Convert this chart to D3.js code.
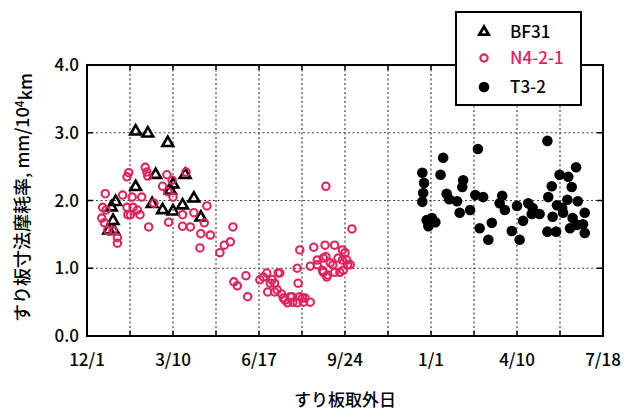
<!DOCTYPE html>
<html>
<head>
<meta charset="utf-8">
<script src="https://cdn.jsdelivr.net/npm/d3@7"></script>
<style>
  body { margin: 0; background: #fff; }
  svg text { font-family: "Noto Sans CJK JP", "DejaVu Sans", sans-serif; font-weight: 500; }
</style>
</head>
<body>
<svg id="chart"></svg>
<script>
// x values are days elapsed since 2004-12-01 (removal date)
var startDate = new Date(2004, 11, 1);
var tickDates = ["2004-12-01", "2005-03-10", "2005-06-17", "2005-09-24", "2006-01-01", "2006-04-10", "2006-07-18"];
var yTicks = [0, 1, 2, 3, 4];

var bfDay = [56, 70, 93, 56, 79, 113, 99, 33, 28, 30, 25, 31, 75, 87, 99, 110, 123, 131, 96];
var bfVal = [3.02, 2.99, 2.85, 2.20, 2.38, 2.38, 2.24, 1.98, 1.90, 1.70, 1.56, 1.55, 1.95, 1.86, 1.84, 1.93, 2.03, 1.75, 2.15];

var nDay = [21, 18, 22, 17, 20, 24, 30, 35, 35, 41, 47,
	46, 48, 52, 53, 46, 50, 58, 61, 63, 67, 69, 70, 71, 77, 87, 92, 93, 94, 98, 99,
	110, 110, 114, 119, 123, 131, 130, 135, 138, 142,
	153, 158, 165, 168, 169, 173, 183, 185,
	199, 203, 207, 211, 213, 216, 219, 220, 208, 216, 224, 226, 228, 234, 231, 237, 236, 245, 242, 248, 251, 249, 257, 243, 242, 222,
	245, 261, 257, 265, 265, 271, 272, 274, 275, 272, 276, 280, 277, 283, 285, 285, 289, 294, 295, 294, 297, 299, 300, 303, 291, 305, 275];
var nVal = [2.10, 1.90, 1.86, 1.74, 1.67, 1.56, 1.56, 1.45, 1.37, 2.08, 1.79,
	2.35, 2.41, 2.05, 1.90, 1.90, 1.79, 1.86, 1.79, 2.05, 2.49, 2.42, 2.36, 1.61, 1.96, 2.21, 2.38, 2.13, 1.68, 2.30, 2.05,
	1.79, 1.62, 2.42, 1.61, 1.82, 1.51, 1.30, 1.67, 1.92, 1.49,
	1.23, 1.34, 1.39, 1.61, 0.80, 0.74, 0.89, 0.58,
	0.83, 0.87, 0.93, 0.78, 0.83, 0.78, 0.68, 0.93, 0.65, 0.65, 0.62, 0.56, 0.53, 0.58, 0.49, 0.50, 0.58, 0.58, 0.49, 0.56, 0.56, 0.50, 0.50, 0.78, 1.00, 0.93,
	1.27, 1.31, 1.03, 1.12, 1.05, 0.97, 1.15, 1.34, 1.17, 0.94, 0.87, 1.08, 0.90, 1.05, 1.34, 0.94, 1.15, 1.27, 0.97, 1.12, 1.23, 1.12, 1.05, 1.05, 0.94, 1.58, 2.21];

var tDay = [386, 388, 387, 386, 391, 397, 401, 393,
	410, 407, 414, 417, 426, 429, 433, 432, 441, 447, 450, 456, 452, 466, 462,
	478, 475, 481, 495, 489, 498, 502, 508, 513, 512, 521, 530, 531, 535, 536, 530, 540,
	544, 554, 563, 558, 553, 565, 548, 559, 573, 571, 573, 556, 564, 547, 541];
var tVal = [2.41, 2.26, 2.11, 1.98, 1.71, 1.74, 1.68, 1.62,
	2.63, 2.38, 2.10, 2.02, 1.99, 1.82, 2.30, 2.20, 1.86, 2.08, 2.76, 2.05, 1.59, 1.67, 1.42,
	2.07, 1.96, 1.86, 1.92, 1.55, 1.42, 1.70, 1.96, 1.89, 1.80, 1.80, 2.88, 2.05, 2.21, 1.76, 1.54, 1.54,
	2.38, 2.35, 2.49, 2.20, 2.01, 1.99, 1.82, 1.74, 1.82, 1.65, 1.52, 1.59, 1.64, 1.89, 1.93];

var seriesNames = ["BF31", "N4-2-1", "T3-2"];
var pink = "#e0235d";

var W = 629, H = 414;
var margin = { top: 65, right: 26, bottom: 78, left: 87 };
var width = W - margin.left - margin.right,
	height = H - margin.top - margin.bottom;

var svg = d3.select("#chart").attr("width", W).attr("height", H);
var g = svg.append("g").attr("transform", "translate(" + margin.left + "," + margin.top + ")");

var parse = d3.timeParse("%Y-%m-%d");
var ticks = tickDates.map(parse);
var x = d3.scaleTime().domain([ticks[0], ticks[ticks.length - 1]]).range([0, width]);
var y = d3.scaleLinear().domain([0, 4]).range([height, 0]);
var toDate = function (d) { return d3.timeDay.offset(startDate, d); };

// grid positions: every label tick plus the midpoints between them
var gridDates = [];
ticks.forEach(function (t, i) {
	gridDates.push(t);
	if (i < ticks.length - 1) gridDates.push(new Date((+t + +ticks[i + 1]) / 2));
});

var grid = g.append("g").attr("stroke", "#444").attr("stroke-width", 1.2).attr("stroke-dasharray", "2,2.5");
grid.selectAll(".vg").data(gridDates.slice(1, -1)).enter().append("line")
	.attr("x1", function (d) { return x(d); }).attr("x2", function (d) { return x(d); })
	.attr("y1", 0).attr("y2", height);
grid.selectAll(".hg").data(yTicks.slice(1, -1)).enter().append("line")
	.attr("x1", 0).attr("x2", width)
	.attr("y1", function (d) { return y(d); }).attr("y2", function (d) { return y(d); });

// inward tick marks on all four sides
var tk = g.append("g").attr("stroke", "#000").attr("stroke-width", 1.5);
gridDates.slice(1, -1).forEach(function (d) {
	tk.append("line").attr("x1", x(d)).attr("x2", x(d)).attr("y1", height).attr("y2", height - 5);
	tk.append("line").attr("x1", x(d)).attr("x2", x(d)).attr("y1", 0).attr("y2", 5);
});
yTicks.slice(1, -1).forEach(function (d) {
	tk.append("line").attr("x1", 0).attr("x2", 6).attr("y1", y(d)).attr("y2", y(d));
	tk.append("line").attr("x1", width).attr("x2", width - 6).attr("y1", y(d)).attr("y2", y(d));
});

// tick labels
var fmt = d3.timeFormat("%-m/%-d");
g.selectAll(".xl").data(ticks).enter().append("text")
	.attr("x", function (d) { return x(d); })
	.attr("y", height + 30)
	.attr("text-anchor", "middle")
	.style("font-size", "17px")
	.text(function (d) { return fmt(d); });
g.selectAll(".yl").data(yTicks).enter().append("text")
	.attr("x", -8)
	.attr("y", function (d) { return y(d); })
	.attr("dy", "0.36em")
	.attr("text-anchor", "end")
	.style("font-size", "17px")
	.text(function (d) { return d3.format(".1f")(d); });

// series
var tri = d3.symbol().type(d3.symbolTriangle).size(50);

g.append("g").selectAll("circle").data(tDay.map(function (d, i) { return [d, tVal[i]]; }))
	.enter().append("circle")
	.attr("cx", function (d) { return x(toDate(d[0])); })
	.attr("cy", function (d) { return y(d[1]); })
	.attr("r", 5.3)
	.attr("fill", "#000");

g.append("g").selectAll("path").data(bfDay.map(function (d, i) { return [d, bfVal[i]]; }))
	.enter().append("path")
	.attr("d", tri)
	.attr("transform", function (d) { return "translate(" + x(toDate(d[0])) + "," + y(d[1]) + ")"; })
	.attr("fill", "none")
	.attr("stroke", "#000")
	.attr("stroke-width", 2.6);

g.append("g").selectAll("circle").data(nDay.map(function (d, i) { return [d, nVal[i]]; }))
	.enter().append("circle")
	.attr("cx", function (d) { return x(toDate(d[0])); })
	.attr("cy", function (d) { return y(d[1]); })
	.attr("r", 3.7)
	.attr("fill", "none")
	.attr("stroke", pink)
	.attr("stroke-width", 2.1);

// frame
g.append("rect").attr("width", width).attr("height", height)
	.attr("fill", "none").attr("stroke", "#000").attr("stroke-width", 2);

// axis titles
svg.append("text")
	.attr("x", 345)
	.attr("y", 406)
	.attr("text-anchor", "middle")
	.style("font-size", "17px")
	.text("すり板取外日");

var yt = svg.append("text")
	.attr("transform", "translate(29," + (margin.top + height / 2 - 3) + ") rotate(-90)")
	.attr("text-anchor", "middle")
	.style("font-size", "18px");
yt.append("tspan").text("すり板寸法摩耗率, mm/10");
yt.append("tspan").attr("dy", "-0.45em").style("font-size", "12px").text("4");
yt.append("tspan").attr("dy", "0.45em").text("km");

// legend
var lg = svg.append("g").attr("transform", "translate(456,12)");
lg.append("rect").attr("width", 125).attr("height", 93)
	.attr("fill", "#fff").attr("stroke", "#000").attr("stroke-width", 2);
var rows = [20, 46, 75];
lg.append("path").attr("d", d3.symbol().type(d3.symbolTriangle).size(38))
	.attr("transform", "translate(28," + rows[0] + ")")
	.attr("fill", "none").attr("stroke", "#000").attr("stroke-width", 2.8);
lg.append("circle").attr("cx", 28).attr("cy", rows[1]).attr("r", 3.6)
	.attr("fill", "none").attr("stroke", pink).attr("stroke-width", 2.2);
lg.append("circle").attr("cx", 28).attr("cy", rows[2]).attr("r", 5.3).attr("fill", "#000");
lg.selectAll(".lt").data(seriesNames).enter().append("text")
	.attr("x", 54)
	.attr("y", function (d, i) { return rows[i]; })
	.attr("dy", "0.36em")
	.style("font-size", "17px")
	.attr("fill", function (d, i) { return i === 1 ? pink : "#000"; })
	.text(function (d) { return d; });
</script>
</body>
</html>
